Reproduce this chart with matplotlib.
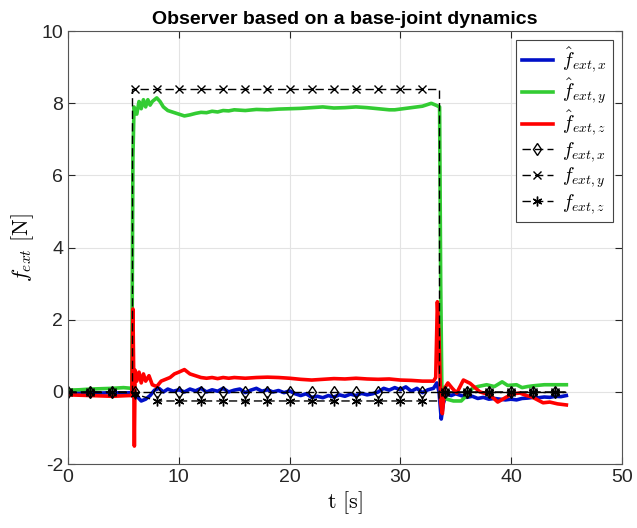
import numpy as np
import matplotlib
matplotlib.use('Agg')
import matplotlib.pyplot as plt

plt.rcParams['font.family'] = ['Liberation Sans', 'DejaVu Sans']
plt.rcParams['mathtext.fontset'] = 'cm'
plt.rcParams['axes.unicode_minus'] = False

# estimated force (observer output)
t_bx = [0, 1, 2, 3, 4, 5, 5.7, 5.85, 6.0, 6.3, 6.6, 7.0, 7.4, 7.8, 8.2, 8.6, 9.0, 9.5, 10, 10.5,
        11, 11.5, 12, 12.5, 13, 13.5, 14, 14.5, 15, 15.5, 16, 16.5, 17, 17.5, 18, 18.5, 19, 19.5,
        20, 20.5, 21, 21.5, 22, 22.5, 23, 23.5, 24, 24.5, 25, 25.5, 26, 26.5, 27, 27.5, 28, 28.5,
        29, 29.5, 30, 30.5, 31, 31.5, 32, 32.5, 33, 33.3, 33.5, 33.7, 33.9, 34.2, 34.6, 35, 35.5,
        36, 36.5, 37, 37.5, 38, 38.5, 39, 39.5, 40, 40.5, 41, 41.5, 42, 42.5, 43, 43.5, 44, 44.5, 45]
f_hat_x = [-0.02, -0.03, -0.02, -0.03, -0.02, -0.03, -0.02, 0.05, -0.1, -0.15, -0.25, -0.2, -0.1,
           0.05, 0.1, 0.0, 0.08, 0.02, 0.06, 0.0, 0.08, 0.03, 0.1, 0.0, 0.06, 0.02, 0.1, 0.0, 0.05,
           0.08, -0.02, 0.05, 0.1, 0.02, 0.06, 0.0, 0.04, -0.02, 0.03, -0.05, -0.1, -0.05, -0.15,
           -0.12, -0.16, -0.1, -0.14, -0.08, -0.12, -0.06, -0.1, -0.04, -0.08, -0.05, 0.0, 0.1, 0.05,
           0.12, 0.06, 0.14, 0.02, 0.1, -0.02, 0.06, 0.1, 0.25, 0.0, -0.75, -0.3, -0.05, -0.1, -0.05,
           -0.1, -0.15, -0.12, -0.18, -0.15, -0.2, -0.18, -0.2, -0.22, -0.2, -0.22, -0.18, -0.17,
           -0.15, -0.16, -0.14, -0.15, -0.12, -0.13, -0.1]

t_gy = [0, 1, 2, 3, 4, 5, 5.75, 5.85, 5.95, 6.2, 6.4, 6.6, 6.8, 7.0, 7.2, 7.4, 7.6, 7.8, 8.0, 8.3,
        8.6, 9.0, 9.5, 10, 10.5, 11, 11.5, 12, 12.5, 13, 13.5, 14, 14.5, 15, 16, 17, 18, 19, 20, 21,
        22, 23, 24, 25, 26, 27, 28, 29, 29.5, 30, 31, 32, 32.8, 33.2, 33.55, 33.65, 33.75, 33.9,
        34.2, 34.8, 35.5, 36, 36.5, 37, 37.8, 38.5, 39.2, 39.7, 40.5, 41, 41.5, 42, 43, 44, 45]
f_hat_y = [0.05, 0.06, 0.08, 0.09, 0.1, 0.12, 0.1, 6.5, 7.9, 7.7, 8.05, 7.85, 8.1, 7.9, 8.1, 7.95,
           8.05, 8.1, 8.15, 8.05, 7.9, 7.8, 7.75, 7.7, 7.65, 7.68, 7.72, 7.75, 7.74, 7.78, 7.76, 7.8,
           7.79, 7.82, 7.8, 7.83, 7.82, 7.84, 7.85, 7.86, 7.88, 7.9, 7.87, 7.88, 7.9, 7.88, 7.85,
           7.82, 7.82, 7.84, 7.88, 7.92, 8.0, 7.95, 7.9, 3.0, 0.2, -0.1, -0.2, -0.25, -0.25, -0.1,
           0.1, 0.15, 0.2, 0.15, 0.28, 0.18, 0.2, 0.12, 0.15, 0.17, 0.2, 0.2, 0.2]

t_rz = [0, 2, 4, 5.5, 5.75, 5.85, 5.92, 5.98, 6.05, 6.2, 6.4, 6.6, 6.8, 7.0, 7.3, 7.6, 8.0, 8.4,
        8.8, 9.2, 9.6, 10.0, 10.5, 11, 11.5, 12, 12.5, 13, 13.5, 14, 14.5, 15, 16, 17, 18, 19, 20,
        21, 22, 23, 24, 25, 26, 27, 28, 29, 30, 31, 32, 33, 33.2, 33.35, 33.5, 33.65, 33.8, 34.0,
        34.3, 34.7, 35.1, 35.7, 36.3, 37.2, 38.1, 38.8, 39.6, 40.2, 40.8, 41.4, 41.9, 42.9, 43.5,
        44.2, 45]
f_hat_z = [-0.08, -0.1, -0.12, -0.1, -0.1, 2.3, 0.5, -1.5, 0.6, 0.3, 0.55, 0.25, 0.5, 0.3, 0.45,
           0.2, 0.15, 0.3, 0.35, 0.4, 0.5, 0.55, 0.62, 0.5, 0.45, 0.4, 0.38, 0.4, 0.37, 0.4, 0.38,
           0.4, 0.38, 0.4, 0.41, 0.4, 0.38, 0.35, 0.33, 0.35, 0.37, 0.36, 0.38, 0.36, 0.35, 0.36,
           0.33, 0.32, 0.3, 0.3, 0.4, 2.5, 1.5, -0.3, -0.6, 0.1, 0.25, 0.1, -0.03, 0.33, 0.24, 0.0,
           -0.08, -0.28, -0.14, -0.05, -0.03, -0.1, -0.14, -0.3, -0.28, -0.33, -0.36]

# reference force
t_ref_x = [0, 2, 4, 6, 8, 10, 12, 14, 16, 18, 20, 22, 24, 26, 28, 30, 32, 34, 36, 38, 40, 42, 44, 45]
f_ref_x = [0] * len(t_ref_x)

t_ref_y = [0, 2, 4, 5.8, 5.8, 6, 8, 10, 12, 14, 16, 18, 20, 22, 24, 26, 28, 30, 32, 33.5, 33.5,
           34, 36, 38, 40, 42, 44, 45]
f_ref_y = [0, 0, 0, 0, 8.4, 8.4, 8.4, 8.4, 8.4, 8.4, 8.4, 8.4, 8.4, 8.4, 8.4, 8.4, 8.4, 8.4, 8.4,
           8.4, 0, 0, 0, 0, 0, 0, 0, 0]

t_ref_z = [0, 2, 4, 5.8, 6, 8, 10, 12, 14, 16, 18, 20, 22, 24, 26, 28, 30, 32, 33.5, 33.5,
           34, 36, 38, 40, 42, 44, 45]
f_ref_z = [0, 0, 0, 0, -0.05, -0.25, -0.25, -0.25, -0.25, -0.25, -0.25, -0.25, -0.25, -0.25,
           -0.25, -0.25, -0.25, -0.25, -0.25, 0, 0, 0, 0, 0, 0, 0, 0]


def marks(t):
    # markers only on the even seconds
    return [i for i, v in enumerate(t) if float(v).is_integer() and int(v) % 2 == 0]


fig = plt.figure(figsize=(6.37, 5.28), dpi=100)
ax = fig.add_axes([0.107, 0.121, 0.869, 0.820])

ax.plot(t_bx, f_hat_x, color='#0010c8', lw=2.6, label=r'$\hat{f}_{ext,x}$')
ax.plot(t_gy, f_hat_y, color='#33cc33', lw=2.6, label=r'$\hat{f}_{ext,y}$')
ax.plot(t_rz, f_hat_z, color='#ff0000', lw=2.6, label=r'$\hat{f}_{ext,z}$')
dash = (0, (6, 3))
ax.plot(t_ref_x, f_ref_x, color='k', ls=dash, lw=1.0, marker='d', ms=6.5, mfc='none', mew=1.0,
        markevery=marks(t_ref_x), label=r'$f_{ext,x}$')
ax.plot(t_ref_y, f_ref_y, color='k', ls=dash, lw=1.0, marker='x', ms=6, mew=1.0,
        markevery=marks(t_ref_y), label=r'$f_{ext,y}$')
ax.plot(t_ref_z, f_ref_z, color='k', ls=dash, lw=1.0, marker=(6, 2, 0), ms=7, mew=1.0,
        markevery=marks(t_ref_z), label=r'$f_{ext,z}$')

ax.set_xlim(0, 50)
ax.set_ylim(-2, 10)
ax.set_xticks(range(0, 51, 10))
ax.set_yticks(range(-2, 11, 2))
ax.grid(True, color='#e3e3e3', lw=0.8)
ax.set_axisbelow(True)
ax.tick_params(direction='in', top=True, right=True, labelsize=14, colors='#262626', length=5)
for s in ax.spines.values():
    s.set_color('#555555')
    s.set_linewidth(0.8)

ax.set_title('Observer based on a base-joint dynamics', fontsize=14, fontweight='bold', pad=5)
ax.set_xlabel(r'$\mathrm{t}\ [\mathrm{s}]$', fontsize=16, labelpad=2)
ax.set_ylabel(r'$f_{ext}\ [\mathrm{N}]$', fontsize=16, labelpad=4)

leg = ax.legend(loc='upper right', fontsize=14, fancybox=False, framealpha=1,
                edgecolor='#444444', handlelength=1.6, borderaxespad=0.45,
                labelspacing=0.1, handletextpad=0.5, borderpad=0.3)
leg.get_frame().set_linewidth(0.8)

fig.savefig('out.png', dpi=100)
